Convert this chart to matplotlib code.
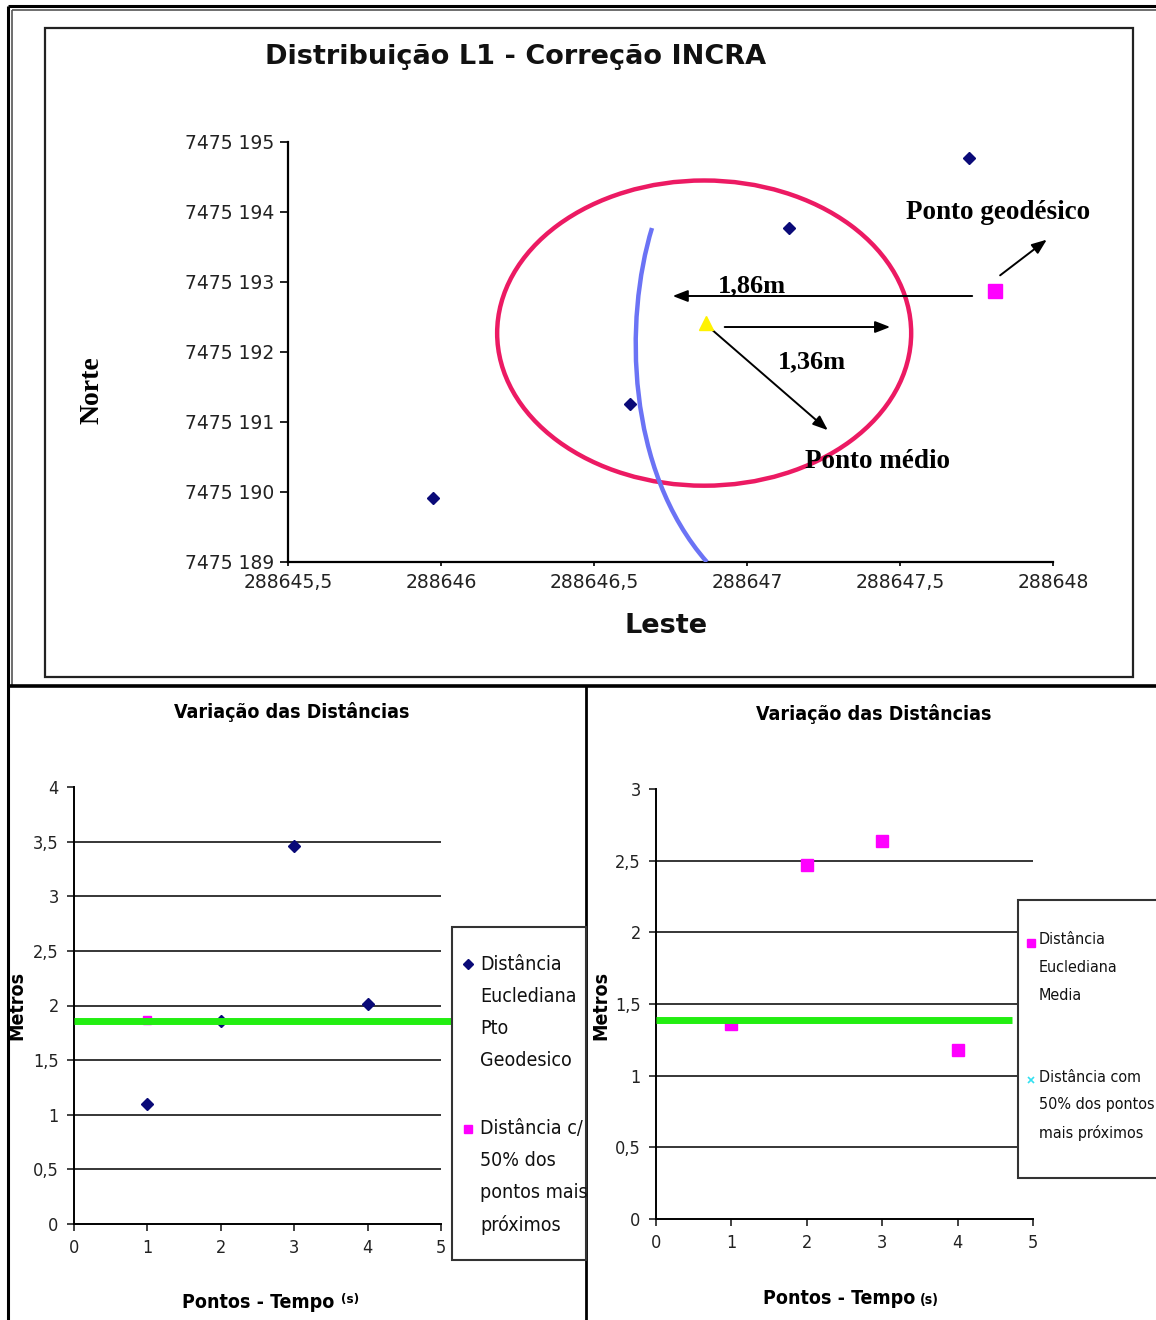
import matplotlib
matplotlib.use("Agg")
import matplotlib.pyplot as plt
from matplotlib.patches import Ellipse, Rectangle, PathPatch
from matplotlib.path import Path
from matplotlib.lines import Line2D
from matplotlib.ticker import FuncFormatter, MultipleLocator

# ---------------- data ----------------
# Top chart: point distribution (Leste, Norte)
leste_pts = [288645.974, 288646.618, 288647.137, 288647.725]
norte_pts = [7475189.914, 7475191.257, 7475193.771, 7475194.771]
medio_leste = [288646.866]
medio_norte = [7475192.414]
geo_leste = [288647.81]
geo_norte = [7475192.871]
ellipse_center = (288646.86, 7475192.27)
ellipse_w = 1.353
ellipse_h = 4.36
# blue curve: cubic Bezier (start, control, control, end)
curve_leste = [288646.6895, 288646.598, 288646.605, 288646.869]
curve_norte = [7475193.771, 7475192.457, 7475190.314, 7475189.0]
xticks_top = [288645.5, 288646, 288646.5, 288647, 288647.5, 288648]
yticks_top = [7475189, 7475190, 7475191, 7475192, 7475193, 7475194, 7475195]

# Bottom-left chart
bl_x_geo = [1, 2, 3, 4]
bl_y_geo = [1.10, 1.86, 3.46, 2.01]
bl_x_50 = [1]
bl_y_50 = [1.87]
bl_mean = 1.86
# Bottom-right chart
br_x_med = [1, 2, 3, 4]
br_y_med = [1.36, 2.47, 2.64, 1.18]
br_mean = 1.39

W, H = 1156, 1320
fig = plt.figure(figsize=(W / 100, H / 100), dpi=100)
fig.patch.set_facecolor("white")


def fx(px):
    return px / W


def fy(py):
    return 1 - py / H


def ax_rect(l, t, r, b):
    return [fx(l), fy(b), (r - l) / W, (b - t) / H]


def fline(xs, ys, lw=2, color="black"):
    fig.add_artist(Line2D([fx(x) for x in xs], [fy(y) for y in ys], lw=lw, color=color,
                          transform=fig.transFigure, solid_capstyle="butt"))


NARROW = ["DejaVu Sans"]
COND = "condensed"
SERIF = ["Liberation Serif", "DejaVu Serif"]

# ---------------- borders ----------------
fline([8, 8], [6, 1320], lw=2.2)
fline([12, 12], [10, 686], lw=1.2, color="#555555")
fline([8, 1156], [6, 6], lw=2.2)
fline([12, 1156], [10, 10], lw=1.2, color="#555555")
fig.add_artist(Rectangle((fx(45), fy(677)), (1133 - 45) / W, (677 - 28) / H, fill=False,
                         lw=1.6, edgecolor="#222222", transform=fig.transFigure))
fline([8, 1156], [686, 686], lw=2.6)
fline([586, 586], [686, 1320], lw=2)

# ---------------- top chart ----------------
ax = fig.add_axes(ax_rect(288, 142, 1053, 562))
ax.set_xlim(288645.5, 288648)
ax.set_ylim(7475189, 7475195)
for s in ["top", "right"]:
    ax.spines[s].set_visible(False)
for s in ["left", "bottom"]:
    ax.spines[s].set_linewidth(1.6)
ax.set_xticks(xticks_top)
ax.set_yticks(yticks_top)


def fmt_x(v, p):
    s = f"{v:.1f}"
    if s.endswith(".0"):
        s = s[:-2]
    return s.replace(".", ",")


def fmt_y(v, p):
    s = str(int(round(v)))
    return s[:-3] + " " + s[-3:]


ax.xaxis.set_major_formatter(FuncFormatter(fmt_x))
ax.yaxis.set_major_formatter(FuncFormatter(fmt_y))
ax.tick_params(axis="y", direction="out", length=6, width=1.4, labelsize=13.5, pad=4, colors="#222222")
ax.tick_params(axis="x", direction="out", length=3, width=1.4, labelsize=13.5, pad=5, colors="#222222")

ax.add_patch(Ellipse(ellipse_center, ellipse_w, ellipse_h, fill=False, edgecolor="#EC1A63", lw=3.2, zorder=3))
curve_path = Path(list(zip(curve_leste, curve_norte)),
                  [Path.MOVETO, Path.CURVE4, Path.CURVE4, Path.CURVE4])
ax.add_patch(PathPatch(curve_path, fill=False, edgecolor="#6B73F5", lw=3.2, zorder=3))
ax.plot(leste_pts, norte_pts, linestyle="none", marker="D", markersize=6, color="#0A0A78", zorder=5)
ax.plot(medio_leste, medio_norte, linestyle="none", marker="^", markersize=10, color="#FFF200", zorder=6)
ax.plot(geo_leste, geo_norte, linestyle="none", marker="s", markersize=10, color="#FF00FF", zorder=6)

arrow_kw = dict(arrowstyle="-|>,head_length=0.9,head_width=0.35", color="black", lw=1.4)
ax.annotate("", xy=(288646.748, 7475192.80), xytext=(288647.745, 7475192.80), arrowprops=arrow_kw)
ax.annotate("", xy=(288647.477, 7475192.357), xytext=(288646.918, 7475192.357), arrowprops=arrow_kw)
ax.annotate("", xy=(288647.271, 7475190.857), xytext=(288646.879, 7475192.343), arrowprops=arrow_kw)
ax.annotate("", xy=(288647.987, 7475193.629), xytext=(288647.820, 7475193.071), arrowprops=arrow_kw)

ax.text(288647.016, 7475192.943, "1,86m", family=SERIF, weight="bold", fontsize=19, ha="center", va="center")
ax.text(288647.212, 7475191.857, "1,36m", family=SERIF, weight="bold", fontsize=19, ha="center", va="center")
ax.text(288647.82, 7475193.986, "Ponto geodésico", family=SERIF, weight="bold", fontsize=19.5, ha="center", va="center")
ax.text(288647.428, 7475190.429, "Ponto médio", family=SERIF, weight="bold", fontsize=19.5, ha="center", va="center")

fig.text(fx(516), fy(57), "Distribuição L1 - Correção INCRA", fontsize=19.5, weight="bold", ha="center", va="center",
         color="#111111")
fig.text(fx(92), fy(390), "Norte", family=SERIF, fontsize=20, weight="bold", rotation=90, ha="center", va="center")
fig.text(fx(666), fy(626), "Leste", fontsize=19.5, weight="bold", ha="center", va="center", color="#111111")


# ---------------- bottom charts ----------------
def style_bottom(a, ymax, grid_vals):
    for s in ["top", "right"]:
        a.spines[s].set_visible(False)
    for s in ["left", "bottom"]:
        a.spines[s].set_linewidth(1.4)
    a.set_xlim(0, 5)
    a.set_ylim(0, ymax)
    a.xaxis.set_major_locator(MultipleLocator(1))
    a.yaxis.set_major_locator(MultipleLocator(0.5))
    fmt = FuncFormatter(lambda v, p: f"{v:g}".replace(".", ","))
    a.xaxis.set_major_formatter(fmt)
    a.yaxis.set_major_formatter(fmt)
    a.tick_params(direction="out", length=5, width=1.2, labelsize=13, pad=6, colors="#222222")
    for lab in a.get_xticklabels() + a.get_yticklabels():
        lab.set_family(NARROW)
        lab.set_fontstretch(COND)
    for g in grid_vals:
        a.axhline(g, color="black", lw=1.1, zorder=1)


axl = fig.add_axes(ax_rect(74, 787, 441, 1224))
style_bottom(axl, 4, [0.5, 1, 1.5, 2, 2.5, 3, 3.5])
axl.plot(bl_x_geo, bl_y_geo, linestyle="none", marker="D", markersize=6, color="#0A0A78", zorder=4)
axl.plot(bl_x_50, bl_y_50, linestyle="none", marker="s", markersize=6, color="#FF00FF", zorder=4)
axl.plot([0, 5.13], [bl_mean, bl_mean], color="#22EE11", lw=5, zorder=5, clip_on=False, solid_capstyle="butt")

axr = fig.add_axes(ax_rect(656, 789, 1033, 1219))
style_bottom(axr, 3, [0.5, 1, 1.5, 2, 2.5])
axr.plot(br_x_med, br_y_med, linestyle="none", marker="s", markersize=8, color="#FF00FF", zorder=4)
axr.plot([0, 4.72], [br_mean, br_mean], color="#22EE11", lw=5, zorder=5, clip_on=False, solid_capstyle="butt")

tkw = dict(family=NARROW, fontstretch=COND)
# titles / labels
fig.text(fx(292), fy(712), "Variação das Distâncias", fontsize=14, weight="bold", ha="center", va="center", **tkw)
fig.text(fx(874), fy(714), "Variação das Distâncias", fontsize=14, weight="bold", ha="center", va="center", **tkw)
fig.text(fx(17), fy(1005), "Metros", fontsize=14, weight="bold", rotation=90, ha="center", va="center", **tkw)
fig.text(fx(601), fy(1005), "Metros", fontsize=14, weight="bold", rotation=90, ha="center", va="center", **tkw)
fig.text(fx(334), fy(1303), "Pontos - Tempo", fontsize=14, weight="bold", ha="right", va="center", **tkw)
fig.text(fx(341), fy(1300), "(s)", fontsize=9.5, weight="bold", ha="left", va="center", **tkw)
fig.text(fx(915), fy(1298), "Pontos - Tempo", fontsize=14, weight="bold", ha="right", va="center", **tkw)
fig.text(fx(920), fy(1300), "(s)", fontsize=10, weight="bold", ha="left", va="center", **tkw)

# legends (drawn as boxes with entries)
fig.add_artist(Rectangle((fx(452), fy(1260)), (586 - 452) / W, (1260 - 927) / H, facecolor="white",
                         edgecolor="#333333", lw=1.5, transform=fig.transFigure, zorder=6))
fig.add_artist(Line2D([fx(468)], [fy(964)], marker="D", markersize=5, color="#0A0A78",
                      linestyle="none", transform=fig.transFigure, zorder=7))
fig.add_artist(Line2D([fx(468)], [fy(1129)], marker="s", markersize=6, color="#FF00FF",
                      linestyle="none", transform=fig.transFigure, zorder=7))
for i, t in enumerate(["Distância", "Euclediana", "Pto", "Geodesico"]):
    fig.text(fx(480), fy(964 + 32 * i), t, fontsize=14, ha="left", va="center", zorder=8, color="#111111", **tkw)
for i, t in enumerate(["Distância c/", "50% dos", "pontos mais", "próximos"]):
    fig.text(fx(480), fy(1129 + 32 * i), t, fontsize=14, ha="left", va="center", zorder=8, color="#111111", **tkw)

fig.add_artist(Rectangle((fx(1018), fy(1178)), (1170 - 1018) / W, (1178 - 900) / H, facecolor="white",
                         edgecolor="#333333", lw=1.5, transform=fig.transFigure, zorder=6))
fig.add_artist(Line2D([fx(1031)], [fy(943)], marker="s", markersize=6, color="#FF00FF",
                      linestyle="none", transform=fig.transFigure, zorder=7))
fig.add_artist(Line2D([fx(1031)], [fy(1080)], marker="x", markersize=5, color="#33E0F0", mew=1.2,
                      linestyle="none", transform=fig.transFigure, zorder=7))
for i, t in enumerate(["Distância", "Euclediana", "Media"]):
    fig.text(fx(1039), fy(940 + 28 * i), t, fontsize=11.5, ha="left", va="center", zorder=8, color="#111111", **tkw)
for i, t in enumerate(["Distância com", "50% dos pontos", "mais próximos"]):
    fig.text(fx(1039), fy(1077 + 28 * i), t, fontsize=11.5, ha="left", va="center", zorder=8, color="#111111", **tkw)

fig.savefig("out.png", dpi=100)
